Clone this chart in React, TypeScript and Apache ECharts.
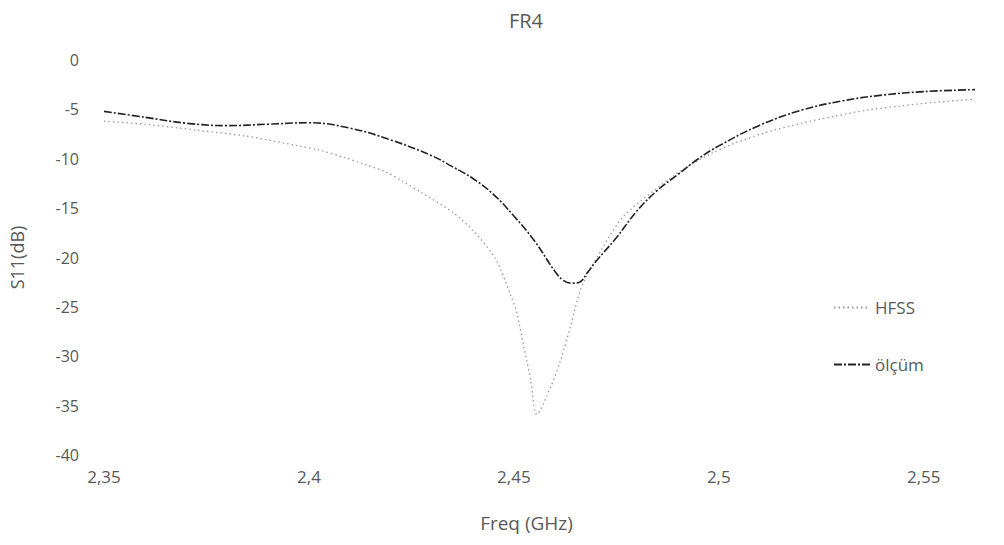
import React, { useEffect, useRef } from "react";
import * as echarts from "echarts";

const titleText = "FR4";
const xName = "Freq (GHz)";
const yName = "S11(dB)";
const seriesNames = ["HFSS", "ölçüm"];

const xMin = 2.35;
const xMax = 2.5625;
const xStep = 0.05;
const yMin = -40;
const yMax = 0;
const yStep = 5;

const hfssFreq = [
  2.35, 2.36, 2.3725, 2.3846, 2.3975, 2.4023, 2.4088, 2.4137, 2.4186, 2.4229,
  2.4277, 2.435, 2.4403, 2.4456, 2.4492, 2.4507, 2.4524, 2.4541, 2.4556, 2.459,
  2.4614, 2.4638, 2.4657, 2.4669, 2.4718, 2.4766, 2.4839, 2.4912, 2.4985, 2.504,
  2.5122, 2.5202, 2.5282, 2.5364, 2.5444, 2.5524, 2.5625,
];
const hfssS11 = [
  -6.2, -6.5, -7.1, -7.7, -8.7, -9.1, -9.9, -10.6, -11.3, -12.3,
  -13.5, -15.4, -17.4, -20.2, -23.8, -25.6, -29, -32.4, -35.9, -33.1,
  -30.4, -27, -24, -22.6, -18.9, -15.9, -13.3, -11.1, -9.4, -8.4,
  -7.25, -6.4, -5.7, -5.06, -4.65, -4.3, -3.98,
];

const measFreq = [
  2.35, 2.36, 2.37, 2.38, 2.39, 2.4, 2.41, 2.42, 2.43, 2.435, 2.44, 2.445,
  2.45, 2.455, 2.46, 2.462, 2.464, 2.466, 2.468, 2.47, 2.475, 2.48, 2.485,
  2.49, 2.495, 2.5, 2.51, 2.52, 2.53, 2.54, 2.55, 2.5625,
];
const measS11 = [
  -5.2, -5.8, -6.4, -6.65, -6.5, -6.35, -6.9, -8.1, -9.7, -10.8, -12.0, -13.6,
  -15.8, -18.3, -21.4, -22.3, -22.6, -22.5, -21.5, -20.4, -18.0, -15.3, -13.2,
  -11.6, -10.0, -8.7, -6.6, -5.1, -4.15, -3.55, -3.2, -3.0,
];

const textColor = "#595959";
const font = "'Open Sans', 'Noto Sans', sans-serif";

export default function App() {
  const ref = useRef<HTMLDivElement>(null);
  useEffect(() => {
    if (!ref.current) return;
    const chart = echarts.init(ref.current, undefined, { renderer: "svg" });
    const zip = (xs: number[], ys: number[]) => xs.map((x, i) => [x, ys[i]]);
    chart.setOption({
      animation: false,
      backgroundColor: "#ffffff",
      textStyle: { fontFamily: font },
      title: {
        text: titleText,
        left: 521,
        textAlign: "center",
        top: 5,
        textStyle: { fontFamily: font, fontSize: 20, fontWeight: "normal", color: textColor },
      },
      legend: {
        orient: "vertical",
        left: 828,
        top: 294,
        itemWidth: 36,
        itemHeight: 10,
        itemGap: 40,
        data: seriesNames,
        itemStyle: { opacity: 0 },
        textStyle: { fontFamily: font, fontSize: 17, color: textColor },
      },
      grid: { left: 97, right: 29, top: 60, bottom: 90, containLabel: false },
      xAxis: {
        type: "value",
        min: xMin,
        max: xMax,
        interval: xStep,
        name: xName,
        nameLocation: "middle",
        nameGap: 58,
        nameTextStyle: { fontFamily: font, fontSize: 19, color: textColor, padding: [0, 26, 0, 0] },
        axisLine: { show: false },
        axisTick: { show: false },
        splitLine: { show: false },
        axisLabel: {
          margin: 13,
          fontSize: 17,
          color: textColor,
          fontFamily: font,
          formatter: (v: number) => {
            const k = v / xStep;
            if (Math.abs(k - Math.round(k)) > 1e-6) return "";
            return String(Math.round(v * 100) / 100).replace(".", ",");
          },
        },
      },
      yAxis: {
        type: "value",
        min: yMin,
        max: yMax,
        interval: yStep,
        name: yName,
        nameLocation: "middle",
        nameGap: 78,
        nameTextStyle: { fontFamily: font, fontSize: 18, color: textColor },
        axisLine: { show: false },
        axisTick: { show: false },
        splitLine: { show: false },
        axisLabel: { margin: 25, fontSize: 16, color: textColor, fontFamily: font },
      },
      series: [
        {
          name: seriesNames[0],
          type: "line",
          data: zip(hfssFreq, hfssS11),
          showSymbol: false,
          symbol: "none",
          smooth: 0.3,
          color: "#9a9a9a",
          lineStyle: { color: "#9a9a9a", width: 1.3, type: [1.5, 3] },
        },
        {
          name: seriesNames[1],
          type: "line",
          data: zip(measFreq, measS11),
          showSymbol: false,
          symbol: "none",
          smooth: 0.4,
          color: "#222222",
          lineStyle: { color: "#222222", width: 1.6, type: [8, 2, 2, 2] },
        },
      ],
    });
    return () => chart.dispose();
  }, []);
  return (
    <div
      ref={ref}
      style={{ position: "fixed", left: 0, top: 0, width: 1004, height: 545, background: "#fff" }}
    />
  );
}
